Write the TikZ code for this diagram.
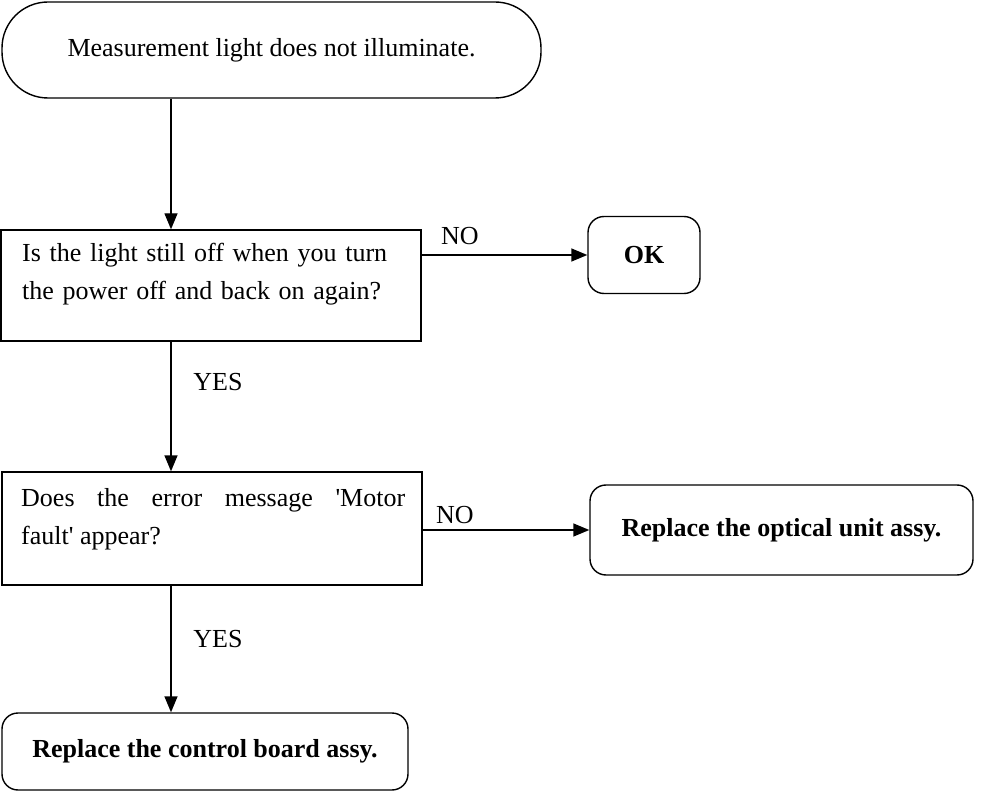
\documentclass[tikz,border=0pt]{standalone}
\usepackage{fontspec}
\setmainfont{Liberation Serif}
\usetikzlibrary{arrows.meta}
\begin{document}
\begin{tikzpicture}[x=1pt,y=-1pt,
  every node/.style={font=\fontsize{26}{38}\selectfont},
  box/.style={draw,line width=1.4pt,inner sep=0pt},
  endbox/.style={box,rounded corners=16pt,font=\fontsize{26}{38}\selectfont\bfseries},
  txt/.style={inner sep=0pt,anchor=north west},
  lbl/.style={inner sep=0pt},
  arr/.style={line width=1.4pt,-{Triangle[length=16pt,width=13pt]}}]
\useasboundingbox (0,0) rectangle (989,805);
% column of the vertical connectors
\coordinate (col) at (171,0);

\node[box,rounded corners=46pt,minimum width=539pt,minimum height=96pt] (start) at (271.5,50)
  {Measurement light does not illuminate.};

% decision boxes: text sits in the upper part of each box
\node[box,minimum width=420pt,minimum height=111pt] (q1) at (211,285.5) {};
\node[txt,text width=395pt,align=left] (q1txt) at (22,243)
  {Is the light still off when you turn\\the power off and back on again?};

\node[endbox,minimum width=112pt,minimum height=77pt] (ok) at (644,255) {OK};

\node[box,minimum width=420pt,minimum height=113pt] (q2) at (212,528.5) {};
\node[txt,text width=384pt,align=justify] (q2txt) at (21,488)
  {Does the error message \textquotesingle Motor\linebreak fault\textquotesingle{} appear?};

\node[endbox,minimum width=383pt,minimum height=90pt] (opt) at (781.5,530)
  {Replace the optical unit assy.};

\node[endbox,minimum width=406pt,minimum height=77pt] (ctrl) at (205,751.5)
  {Replace the control board assy.};

\draw[arr] (col |- start.south) -- (col |- q1.north);
\draw[arr] (col |- q1.south) -- (col |- q2.north);
\draw[arr] (col |- q2.south) -- (col |- ctrl.north);
\draw[arr] (q1.east |- ok.west) -- (ok.west);
\draw[arr] (q2.east |- opt.west) -- (opt.west);

\node[lbl] (no1) at (460,236) {NO};
\node[lbl] (no2) at (455,515) {NO};
\node[lbl] (yes1) at (218,382) {YES};
\node[lbl] (yes2) at (218,639) {YES};
\end{tikzpicture}
\end{document}
